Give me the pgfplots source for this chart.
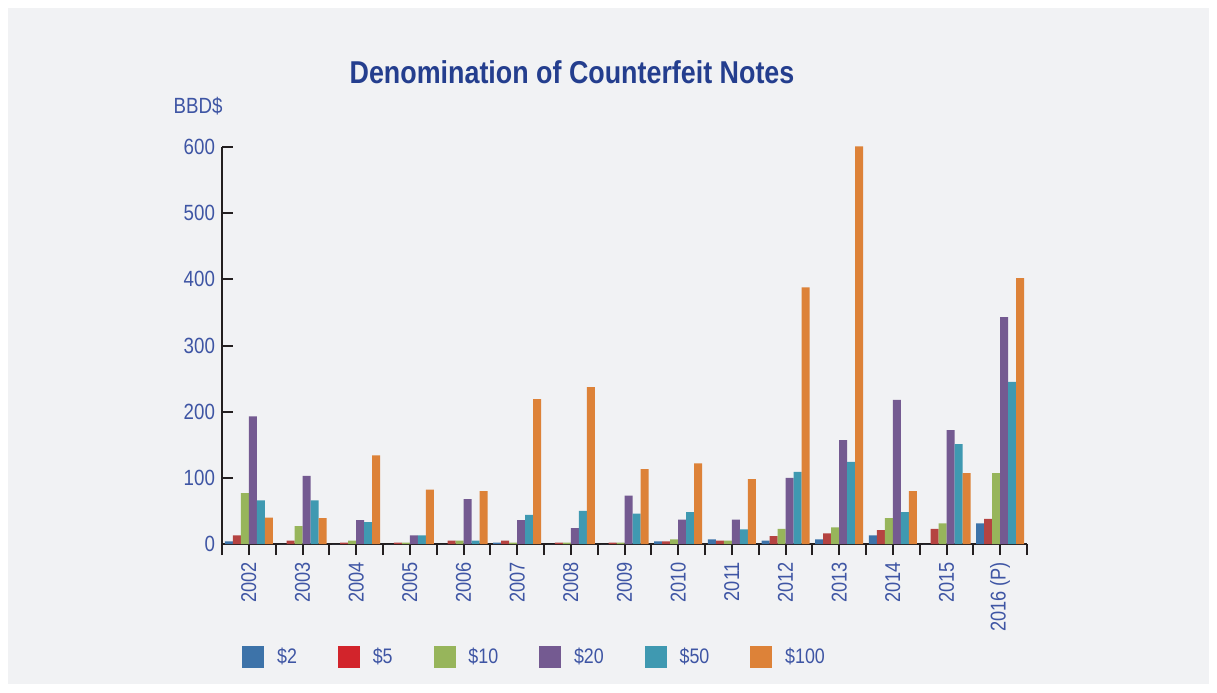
\documentclass[border=0pt]{standalone}
\usepackage{fontspec}
\setmainfont{Liberation Sans}[FakeStretch=0.85]
\usepackage{pgfplots}
\pgfplotsset{compat=1.18}

\definecolor{bgc}{HTML}{F1F2F4}
\definecolor{axc}{HTML}{231F20}
\definecolor{txtc}{HTML}{3E55A4}
\definecolor{titc}{HTML}{243E8E}
\definecolor{cTwo}{HTML}{3D73A9}
\definecolor{cFive}{HTML}{B54341}
\definecolor{cFiveL}{HTML}{D2242B}
\definecolor{cTen}{HTML}{97B55B}
\definecolor{cTwenty}{HTML}{745A91}
\definecolor{cFifty}{HTML}{3F99B1}
\definecolor{cHund}{HTML}{DD8238}

% values, x = 0..14 for 2002..2016
\pgfplotstableread{
x  d2 d5 d10 d20 d50 d100
0  4  13 77  193 66  40
1  0  5  27  103 66  39
2  0  2  5   36  33  134
3  0  2  2   13  13  82
4  0  5  5   68  5   80
5  2  5  2   36  44  219
6  0  2  2   24  50  237
7  0  2  2   73  46  113
8  4  4  7   37  48  122
9  7  5  5   37  22  98
10 5  12 23  100 109 388
11 7  16 25  157 124 601
12 13 21 39  218 48  80
13 0  23 31  172 151 107
14 31 38 107 343 245 402
}\notes

\pgfplotsset{
  sq/.style={legend image code/.code={\fill[#1] (0pt,-5.25pt) rectangle (10.5pt,5.25pt);}},
}

\begin{document}
\begin{tikzpicture}
\fill[white] (0,0) rectangle (608.5pt,346pt);
\fill[bgc] (4pt,4pt) rectangle (604.5pt,342pt);

\node[font=\fontsize{15.8}{18}\selectfont\bfseries, text=titc] at (286pt,310pt) {Denomination of Counterfeit Notes};
\node[font=\fontsize{11}{13}\selectfont, text=txtc] at (99pt,293pt) {BBD\$};

\begin{axis}[
  at={(111pt,74pt)}, anchor=south west,
  scale only axis, width=402.5pt, height=198.5pt,
  xmin=-0.5, xmax=14.5, ymin=0, ymax=600,
  axis x line*=bottom, axis y line*=left,
  axis line style={draw=axc, line width=1pt},
  bar width=4pt,
  major tick length=5.5pt,
  /pgf/number format/assume math mode=true,
  ytick={0,100,...,600},
  ytick align=inside,
  y tick style={draw=axc, line width=1pt},
  yticklabel style={font=\fontsize{11}{13}\selectfont, text=txtc},
  xtick={-0.5,0.5,...,14.5}, xticklabels={},
  xtick align=outside,
  x tick style={draw=axc, line width=1pt},
  extra x ticks={0,...,14},
  extra x tick labels={2002,2003,2004,2005,2006,2007,2008,2009,2010,2011,2012,2013,2014,2015,2016 (P)},
  extra x tick style={tick style={draw=none},
    xticklabel style={rotate=90, anchor=east, font=\fontsize{10.7}{13}\selectfont, text=txtc}},
  legend columns=6,
  legend style={at={(0.0248,-0.285)}, anchor=west, draw=none, fill=none, inner sep=0pt,
    font=\fontsize{10.5}{13}\selectfont, text=txtc,
    /tikz/every odd column/.append style={column sep=4.5pt},
    /tikz/every even column/.append style={column sep=18.5pt}},
  legend cell align=left,
  clip=false,
]
\addplot[ybar, bar shift=-10pt, fill=cTwo, draw=none, forget plot] table[x=x, y=d2] {\notes};
\addplot[ybar, bar shift=-6pt, fill=cFive, draw=none, forget plot] table[x=x, y=d5] {\notes};
\addplot[ybar, bar shift=-2pt, fill=cTen, draw=none, forget plot] table[x=x, y=d10] {\notes};
\addplot[ybar, bar shift=2pt, fill=cTwenty, draw=none, forget plot] table[x=x, y=d20] {\notes};
\addplot[ybar, bar shift=6pt, fill=cFifty, draw=none, forget plot] table[x=x, y=d50] {\notes};
\addplot[ybar, bar shift=10pt, fill=cHund, draw=none, forget plot] table[x=x, y=d100] {\notes};

\addlegendimage{sq=cTwo}\addlegendentry{\$2}
\addlegendimage{sq=cFiveL}\addlegendentry{\$5}
\addlegendimage{sq=cTen}\addlegendentry{\$10}
\addlegendimage{sq=cTwenty}\addlegendentry{\$20}
\addlegendimage{sq=cFifty}\addlegendentry{\$50}
\addlegendimage{sq=cHund}\addlegendentry{\$100}
\end{axis}
\end{tikzpicture}
\end{document}
